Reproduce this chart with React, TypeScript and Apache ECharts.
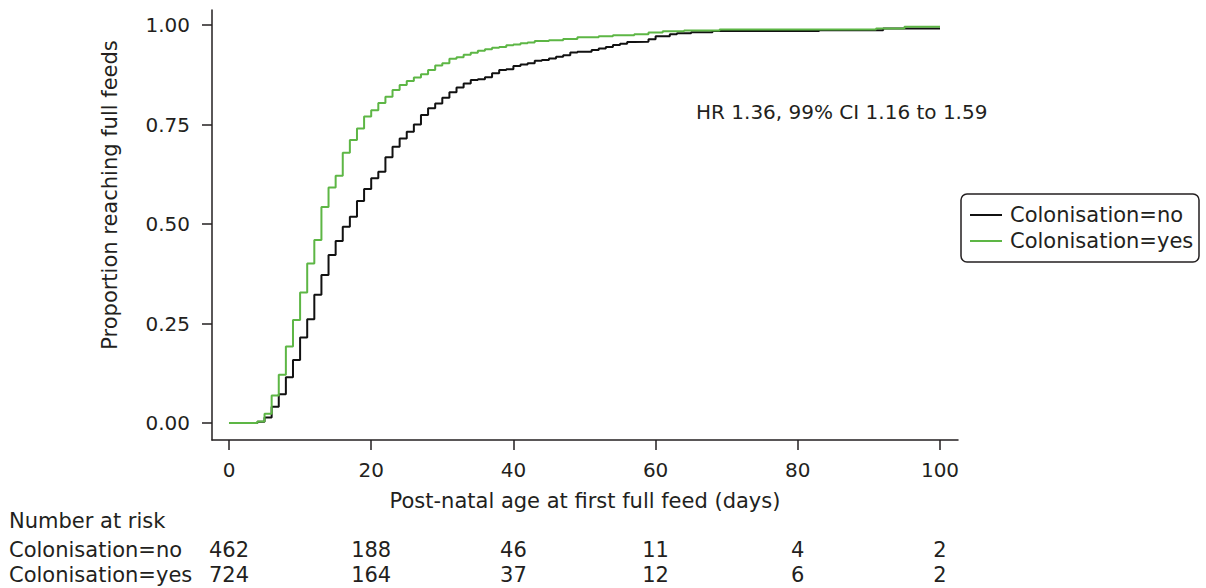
import React, { useEffect, useRef } from "react";
import * as echarts from "echarts";

const xTicks = [0, 20, 40, 60, 80, 100];
const yTicks = [0, 0.25, 0.5, 0.75, 1];

const groupLabels = ["Colonisation=no", "Colonisation=yes"];

const noTimes = [0, 4, 5, 6, 7, 8, 9, 10, 11, 12, 13, 14, 15, 16, 17, 18, 19, 20, 21, 22, 23, 24, 25, 26, 27, 28, 29, 30, 31, 32, 33, 34, 35, 36, 37, 38, 39, 40, 41, 42, 43, 44, 45, 46, 47, 48, 49, 51, 52, 53, 54, 55, 56, 57, 59, 60, 62, 63, 65, 68, 83, 92, 100];
const noProp = [0, 0.003, 0.014, 0.041, 0.072, 0.115, 0.158, 0.215, 0.261, 0.322, 0.372, 0.422, 0.457, 0.493, 0.518, 0.558, 0.588, 0.615, 0.631, 0.668, 0.694, 0.715, 0.732, 0.75, 0.774, 0.791, 0.803, 0.817, 0.831, 0.843, 0.853, 0.862, 0.864, 0.869, 0.879, 0.887, 0.889, 0.897, 0.901, 0.904, 0.91, 0.912, 0.916, 0.92, 0.924, 0.931, 0.933, 0.937, 0.941, 0.945, 0.95, 0.953, 0.957, 0.958, 0.964, 0.972, 0.977, 0.979, 0.982, 0.985, 0.987, 0.9915, 0.9915];

const yesTimes = [0, 4, 5, 6, 7, 8, 9, 10, 11, 12, 13, 14, 15, 16, 17, 18, 19, 20, 21, 22, 23, 24, 25, 26, 27, 28, 29, 30, 31, 32, 33, 34, 35, 36, 37, 38, 39, 40, 41, 42, 43, 45, 47, 49, 52, 54, 57, 59, 61, 64, 69, 91, 95, 100];
const yesProp = [0, 0.004, 0.023, 0.069, 0.121, 0.192, 0.259, 0.328, 0.401, 0.46, 0.543, 0.592, 0.621, 0.679, 0.711, 0.74, 0.77, 0.786, 0.804, 0.82, 0.837, 0.849, 0.859, 0.868, 0.876, 0.887, 0.898, 0.904, 0.915, 0.919, 0.925, 0.93, 0.935, 0.939, 0.943, 0.945, 0.949, 0.951, 0.954, 0.956, 0.96, 0.962, 0.965, 0.969, 0.972, 0.974, 0.977, 0.981, 0.984, 0.986, 0.989, 0.9915, 0.9958, 0.9958];

const riskNo = [462, 188, 46, 11, 4, 2];
const riskYes = [724, 164, 37, 12, 6, 2];

const hrText = "HR 1.36, 99% CI 1.16 to 1.59";
const yTitle = "Proportion reaching full feeds";
const xTitle = "Post-natal age at first full feed (days)";
const riskTitle = "Number at risk";

const colors = ["#111111", "#5db645"];

export default function App() {
  const ref = useRef<HTMLDivElement>(null);
  useEffect(() => {
    const chart = echarts.init(ref.current!, null, { renderer: "svg" });
    const font = "'DejaVu Sans', sans-serif";
    const ink = "#231f20";
    const fs = 21;
    const tfs = 20;
    const option: any = {
      animation: false,
      backgroundColor: "#ffffff",
      textStyle: { fontFamily: font },
      grid: { left: 212, top: 10, width: 746, height: 430, containLabel: false },
      xAxis: {
        type: "value",
        min: -2.39,
        max: 102.53,
        name: xTitle,
        nameLocation: "middle",
        nameGap: 50,
        nameTextStyle: { fontFamily: font, fontSize: fs, color: ink },
        axisLine: { show: true, onZero: false, lineStyle: { color: ink, width: 1.5 } },
        axisTick: { show: true, length: 10, customValues: xTicks, lineStyle: { color: ink, width: 1.5 } },
        axisLabel: { customValues: xTicks, margin: 20, fontFamily: font, fontSize: tfs, color: ink },
        splitLine: { show: false },
      },
      yAxis: {
        type: "value",
        min: -0.0427,
        max: 1.0377,
        axisLine: { show: true, onZero: false, lineStyle: { color: ink, width: 1.5 } },
        axisTick: { show: true, length: 10, customValues: yTicks, lineStyle: { color: ink, width: 1.5 } },
        axisLabel: {
          customValues: yTicks,
          margin: 22,
          fontFamily: font,
          fontSize: tfs,
          color: ink,
          formatter: (v: number) => v.toFixed(2),
        },
        splitLine: { show: false },
      },
      series: [
        {
          name: groupLabels[0],
          type: "line",
          step: "end",
          symbol: "none",
          data: noTimes.map((t, i) => [t, noProp[i]]),
          lineStyle: { color: colors[0], width: 2 },
          itemStyle: { color: colors[0] },
        },
        {
          name: groupLabels[1],
          type: "line",
          step: "end",
          symbol: "none",
          data: yesTimes.map((t, i) => [t, yesProp[i]]),
          lineStyle: { color: colors[1], width: 2 },
          itemStyle: { color: colors[1] },
        },
      ],
    };
    chart.setOption(option);

    const txt = (x: number, y: number, text: string, align = "left", extra: any = {}, size = fs) => ({
      type: "text",
      x,
      y,
      style: { text, fontFamily: font, fontSize: size, fill: ink, align, verticalAlign: "middle" },
      ...extra,
    });

    const graphics: any[] = [];
    graphics.push(txt(110, 195, yTitle, "center", { rotation: Math.PI / 2 }));
    graphics.push(txt(696, 112, hrText, "left", {}, 20));
    // legend
    graphics.push({
      type: "rect",
      shape: { x: 961, y: 194, width: 238, height: 68, r: 6 },
      style: { fill: "#ffffff", stroke: ink, lineWidth: 1.5 },
    });
    groupLabels.forEach((g, i) => {
      const y = 215 + i * 26;
      graphics.push({
        type: "line",
        shape: { x1: 970, y1: y, x2: 1002, y2: y },
        style: { stroke: colors[i], lineWidth: 2 },
      });
      graphics.push(txt(1010, y, g));
    });
    // number at risk table
    graphics.push(txt(9, 521, riskTitle));
    const rows = [riskNo, riskYes];
    rows.forEach((row, r) => {
      const y = 549.5 + r * 25.5;
      graphics.push(txt(9, y, groupLabels[r]));
      xTicks.forEach((d, i) => {
        const px = chart.convertToPixel({ xAxisIndex: 0 }, d) as number;
        graphics.push(txt(px, y, String(row[i]), "center"));
      });
    });
    chart.setOption({ graphic: graphics });
    return () => chart.dispose();
  }, []);
  return (
    <div
      ref={ref}
      style={{ position: "fixed", left: 0, top: 0, width: 1206, height: 588, background: "#fff" }}
    />
  );
}
